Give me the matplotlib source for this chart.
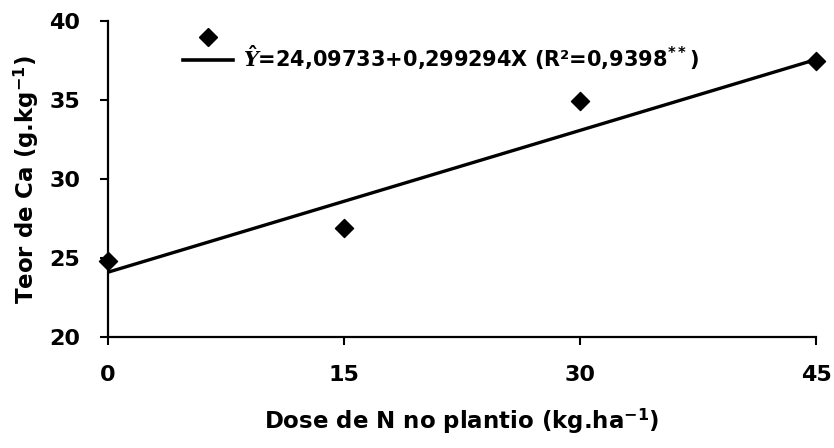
import matplotlib.pyplot as plt
from matplotlib.lines import Line2D

# Dados: dose de N no plantio x teor de Ca
dose_n = [0, 15, 30, 45]
teor_ca = [24.8, 26.9, 34.95, 37.5]

# Ajuste linear
a, b = 24.09733, 0.299294
x_fit = [0, 45]
y_fit = [a + b * x for x in x_fit]

plt.rcParams['font.family'] = ['DejaVu Sans']
plt.rcParams['font.weight'] = 'bold'
plt.rcParams['mathtext.fontset'] = 'custom'
plt.rcParams['mathtext.rm'] = 'DejaVu Sans:bold'
plt.rcParams['mathtext.it'] = 'DejaVu Serif:italic:bold'

fig = plt.figure(figsize=(8.34, 4.48), dpi=100)
ax = fig.add_axes([0.1295, 0.248, 0.849, 0.705])

ax.scatter(dose_n, teor_ca, marker='D', s=85, color='black', zorder=3, clip_on=False)
ax.plot(x_fit, y_fit, color='black', linewidth=2.4)

ax.set_xlim(0, 45)
ax.set_ylim(20, 40)
ax.set_xticks([0, 15, 30, 45])
ax.set_yticks([20, 25, 30, 35, 40])
ax.tick_params(direction='out', length=6, width=1.5, labelsize=16)
ax.tick_params(axis='x', pad=14)
ax.tick_params(axis='y', pad=14)
for s in ['top', 'right']:
    ax.spines[s].set_visible(False)
for s in ['left', 'bottom']:
    ax.spines[s].set_linewidth(1.6)

ax.set_xlabel('Dose de N no plantio (kg.ha$^{-1}$)', fontsize=16.5, fontweight='bold', labelpad=16)
ax.set_ylabel('Teor de Ca (g.kg$^{-1}$)', fontsize=16.5, fontweight='bold', labelpad=6)

handles = [Line2D([], [], marker='D', linestyle='none', color='black', markersize=9),
           Line2D([], [], color='black', linewidth=2.6)]
labels = ['', r'$\hat{Y}$=24,09733+0,299294X (R²=0,9398$^{**}$)']
ax.legend(handles, labels, loc='upper left', bbox_to_anchor=(0.079, 1.038), frameon=False,
          fontsize=15, handlelength=2.4, labelspacing=-0.2, handletextpad=0.5)

fig.savefig('out.png', dpi=100)
